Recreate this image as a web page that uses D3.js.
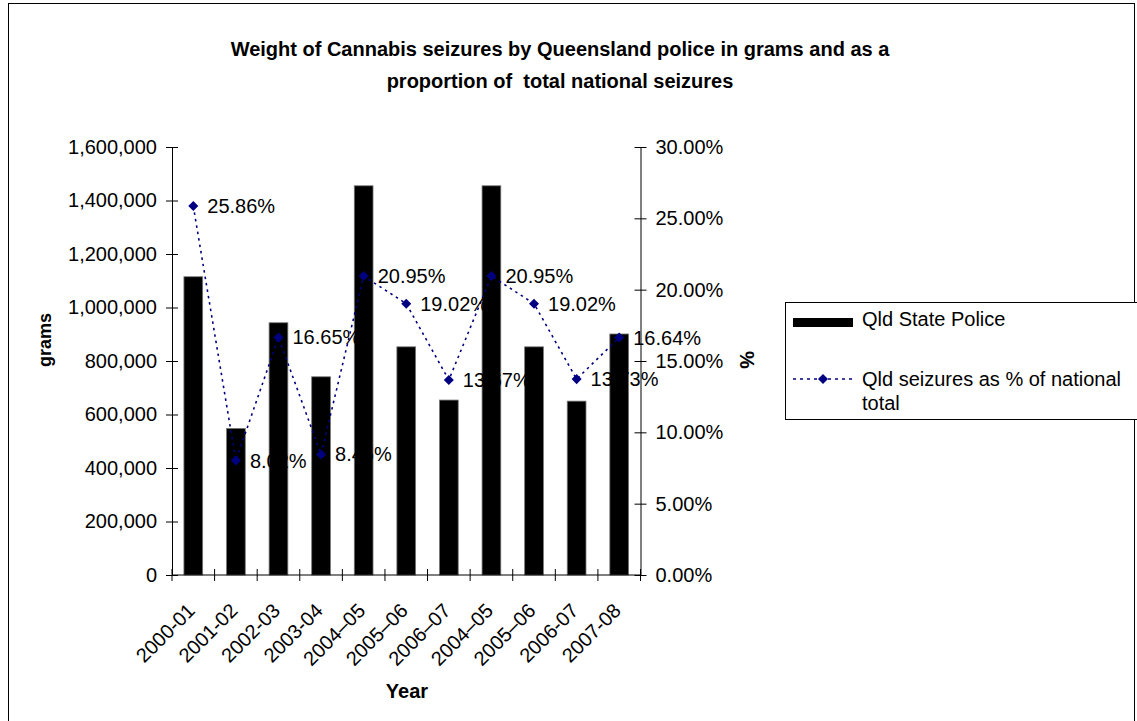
<!DOCTYPE html>
<html lang="en">
<head>
<meta charset="utf-8">
<title>Cannabis seizures Qld</title>
<script src="https://cdn.jsdelivr.net/npm/d3@7"></script>
<style>
  body { margin: 0; background: #fff; }
  text { font-family: "Liberation Sans", Arial, sans-serif; fill: #000; }
</style>
</head>
<body>
<script>
// chart data
var years = ["2000-01", "2001-02", "2002-03", "2003-04", "2004\u201305", "2005\u201306",
             "2006\u201307", "2004\u201305", "2005\u201306", "2006-07", "2007-08"];
var grams = [1115000, 548000, 943000, 741000, 1455000, 853000, 654000, 1455000, 853000, 650000, 901000];
var pctNational = [25.86, 8.02, 16.65, 8.45, 20.95, 19.02, 13.67, 20.95, 19.02, 13.73, 16.64];
var gramTicks = [0, 200000, 400000, 600000, 800000, 1000000, 1200000, 1400000, 1600000];
var pctTicks = [0, 5, 10, 15, 20, 25, 30];

var W = 1137, H = 721;
var plotL = 172, plotR = 640.5, plotT = 147, plotB = 575;
var fs = "20px";

var svg = d3.select("body").append("svg")
    .attr("width", W)
    .attr("height", H);

// outer chart frame (bottom runs off the page)
svg.append("rect")
    .attr("x", 8.5).attr("y", 3.5)
    .attr("width", 1126).attr("height", 740)
    .attr("fill", "none").attr("stroke", "#000").attr("stroke-width", 1);

// title
var title = svg.append("text")
    .attr("text-anchor", "middle")
    .style("font-size", "20px").style("font-weight", "bold");
title.append("tspan").attr("x", 560).attr("y", 56)
    .text("Weight of Cannabis seizures by Queensland police in grams and as a");
title.append("tspan").attr("x", 560).attr("y", 88)
    .text("proportion of  total national seizures")
    .style("white-space", "pre");

var x = d3.scaleBand()
    .domain(d3.range(years.length))
    .range([plotL, plotR]);

var y = d3.scaleLinear().domain([0, 1600000]).range([plotB, plotT]);
var y2 = d3.scaleLinear().domain([0, 30]).range([plotB, plotT]);

// bars
var barW = x.bandwidth() * 0.44;
svg.append("g").selectAll("rect")
    .data(grams)
    .enter().append("rect")
    .attr("x", function(d, i) { return x(i) + x.bandwidth() / 2 - barW / 2; })
    .attr("y", function(d) { return y(d); })
    .attr("width", barW)
    .attr("height", function(d) { return plotB - y(d); })
    .attr("fill", "#000")
    .attr("stroke", "#777")
    .attr("stroke-width", 0.8);

// left axis
var yAxis = d3.axisLeft(y)
    .tickValues(gramTicks)
    .tickFormat(d3.format(","))
    .tickSizeInner(6).tickSizeOuter(0);
var gy = svg.append("g").attr("transform", "translate(" + plotL + ",0)").call(yAxis);
gy.select(".domain").attr("stroke", "#000");
gy.selectAll(".tick line").attr("x2", 6).attr("x1", -6).attr("stroke", "#000");
gy.selectAll(".tick text").attr("x", -15).style("font-size", fs);

// right axis
var y2Axis = d3.axisRight(y2)
    .tickValues(pctTicks)
    .tickFormat(function(d) { return d.toFixed(2) + "%"; })
    .tickSizeInner(6).tickSizeOuter(0);
var gy2 = svg.append("g").attr("transform", "translate(" + plotR + ",0)").call(y2Axis);
gy2.select(".domain").attr("stroke", "#000");
gy2.selectAll(".tick line").attr("x1", -6).attr("x2", 6).attr("stroke", "#000");
gy2.selectAll(".tick text").attr("x", 15).style("font-size", fs);

// bottom axis with ticks between categories
var gx = svg.append("g");
gx.append("line")
    .attr("x1", plotL).attr("x2", plotR)
    .attr("y1", plotB).attr("y2", plotB)
    .attr("stroke", "#000");
gx.selectAll("line.tk")
    .data(d3.range(years.length + 1))
    .enter().append("line")
    .attr("class", "tk")
    .attr("x1", function(i) { return plotL + i * x.step(); })
    .attr("x2", function(i) { return plotL + i * x.step(); })
    .attr("y1", plotB - 6).attr("y2", plotB + 6)
    .attr("stroke", "#000");
gx.selectAll("text")
    .data(years)
    .enter().append("text")
    .attr("text-anchor", "end")
    .attr("transform", function(d, i) {
        return "translate(" + (x(i) + x.bandwidth() / 2 - 2) + "," + (plotB + 32) + ") rotate(-45)";
    })
    .attr("dy", "0.35em")
    .style("font-size", fs)
    .text(function(d) { return d; });

// line series
var cx = function(d, i) { return x(i) + x.bandwidth() / 2; };
var line = d3.line()
    .x(cx)
    .y(function(d) { return y2(d); });
svg.append("path")
    .datum(pctNational)
    .attr("d", line)
    .attr("fill", "none")
    .attr("stroke", "#000080")
    .attr("stroke-width", 1.6)
    .attr("stroke-dasharray", "2.5,4");

var diamond = d3.symbol().type(d3.symbolDiamond2).size(64);
svg.append("g").selectAll("path")
    .data(pctNational)
    .enter().append("path")
    .attr("d", diamond)
    .attr("transform", function(d, i) { return "translate(" + cx(d, i) + "," + y2(d) + ")"; })
    .attr("fill", "#000080");

svg.append("g").selectAll("text")
    .data(pctNational)
    .enter().append("text")
    .attr("x", function(d, i) { return cx(d, i) + 14; })
    .attr("y", function(d) { return y2(d); })
    .attr("dy", "0.35em")
    .style("font-size", fs)
    .text(function(d) { return d.toFixed(2) + "%"; });

// axis titles
svg.append("text")
    .attr("transform", "translate(51,340) rotate(-90)")
    .attr("text-anchor", "middle")
    .style("font-size", "18px").style("font-weight", "bold")
    .text("grams");
svg.append("text")
    .attr("transform", "translate(740,360) rotate(90)")
    .attr("text-anchor", "middle")
    .style("font-size", "20px").style("font-weight", "bold")
    .text("%");
svg.append("text")
    .attr("x", 407).attr("y", 698)
    .attr("text-anchor", "middle")
    .style("font-size", "20px").style("font-weight", "bold")
    .text("Year");

// legend
var lg = svg.append("g");
lg.append("rect")
    .attr("x", 785.5).attr("y", 302.5)
    .attr("width", 360).attr("height", 117)
    .attr("fill", "#fff").attr("stroke", "#000");
lg.append("rect")
    .attr("x", 793).attr("y", 318).attr("width", 60).attr("height", 9)
    .attr("fill", "#000");
lg.append("text").attr("x", 862).attr("y", 326).style("font-size", fs)
    .text("Qld State Police");
lg.append("line")
    .attr("x1", 793).attr("x2", 853).attr("y1", 379).attr("y2", 379)
    .attr("stroke", "#000080").attr("stroke-width", 1.6).attr("stroke-dasharray", "3,4");
lg.append("path").attr("d", diamond).attr("transform", "translate(823,379)").attr("fill", "#000080");
lg.append("text").attr("x", 862).attr("y", 386).style("font-size", fs)
    .text("Qld seizures as % of national");
lg.append("text").attr("x", 862).attr("y", 410).style("font-size", fs)
    .text("total");
</script>
</body>
</html>
